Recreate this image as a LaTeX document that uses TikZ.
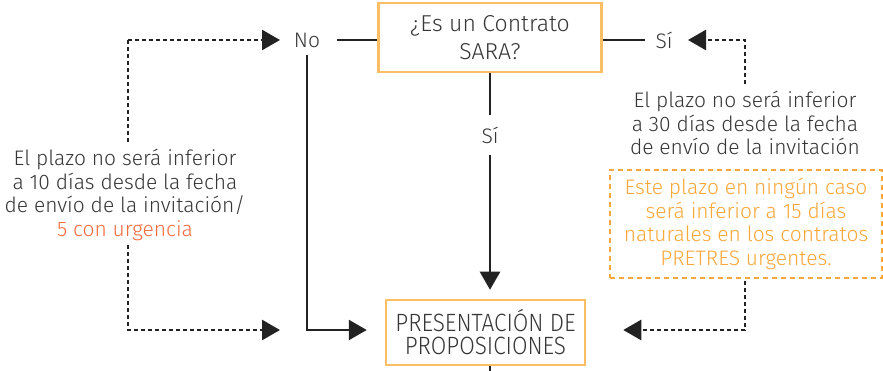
\documentclass[tikz,border=0pt]{standalone}
\usepackage{fontspec}
\setmainfont{Fira Sans Light}
\usetikzlibrary{arrows.meta}
\definecolor{txt}{HTML}{363636}
\definecolor{ln}{HTML}{222222}
\definecolor{boxor}{HTML}{FBBE64}
\definecolor{dashor}{HTML}{F8A73A}
\definecolor{redor}{HTML}{F26B3D}
\tikzset{
  every node/.style={text=txt, font=\fontsize{21}{23.6}\selectfont, align=center, inner sep=0pt},
  decision/.style={draw=boxor, line width=2.5pt, minimum width=223pt, minimum height=69pt},
  solidln/.style={draw=ln, line width=2.5pt},
  dashln/.style={draw=ln, line width=2.6pt, dash pattern=on 4pt off 3pt},
  tip/.style={-{Triangle[length=18pt,width=20pt]}},
}
\begin{document}
\begin{tikzpicture}[x=1pt,y=-1pt]
\useasboundingbox (0,0) rectangle (883,371);
\node[decision, font=\fontsize{23}{28}\selectfont] (q) at (490,37.5) {¿Es un Contrato\\SARA?};
\node[decision, minimum width=199pt, minimum height=65pt, font=\fontsize{25}{23}\selectfont] (p) at (485.5,332.5) {\scalebox{0.9}[1]{PRESENTACIÓN DE}\\\scalebox{0.9}[1]{PROPOSICIONES}};
\node (no) at (307,40) {No};
\node (si) at (664,40) {Sí};
\node (sim) at (490,135) {Sí};
\node (lt) at (125,195) {El plazo no será inferior\\a 10 días desde la fecha\\de envío de la invitación/\\\textcolor{redor}{5 con urgencia}};
\node (rt) at (745,123) {El plazo no será inferior\\a 30 días desde la fecha\\de envío de la invitación};
\node[draw=dashor, line width=2.5pt, dash pattern=on 5pt off 4pt, text=dashor, minimum width=272pt, minimum height=108pt] (ob) at (746,224) {Este plazo en ningún caso\\será inferior a 15 días\\naturales en los contratos\\PRETRES urgentes.};
\coordinate (l1) at (128,40);
\coordinate (l2) at (128,330);
\coordinate (r1) at (745,40);
\coordinate (r2) at (745,330);
% solid
\draw[solidln] (337,40) -- (q.west |- 0,40);
\draw[solidln] (q.east |- 0,40) -- (645,40);
\draw[solidln] (q.south) -- (490,115);
\draw[solidln, tip, shorten >=9pt] (490,155) -- (p.north -| 490,0);
\draw[solidln, tip, shorten >=18pt] (307,55) |- (p.west |- 0,330);
\draw[solidln] (p.south -| 490,0) -- (490,371);
% dashed
\draw[dashln, tip] (l1) -- (280,40);
\draw[dashln] (l1) -- (128,143);
\draw[dashln, tip] (128,245) -- (l2) -- (280,330);
\draw[dashln, tip] (745,84) -- (r1) -- (688,40);
\draw[dashln, tip, shorten >=37pt] (745,281) -- (r2) -- (p.east |- 0,330);
\end{tikzpicture}
\end{document}
